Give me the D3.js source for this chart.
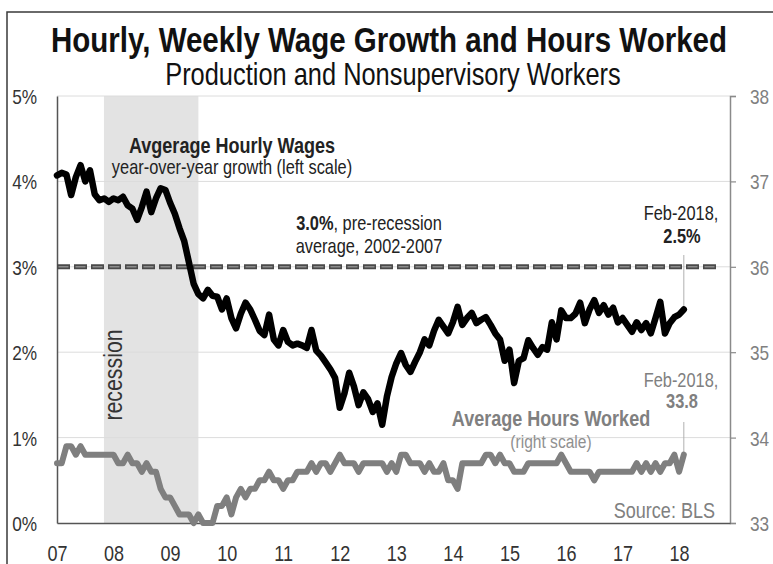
<!DOCTYPE html>
<html>
<head>
<meta charset="utf-8">
<script src="https://cdn.jsdelivr.net/npm/d3@7"></script>
<style>
  html, body { margin: 0; padding: 0; background: #fff; }
  svg { display: block; }
  text { font-family: "Liberation Sans", Arial, sans-serif; }
</style>
</head>
<body>
<script>
// Year-over-year growth of average hourly wages, production & nonsupervisory workers (%), monthly Jan-2007 .. Feb-2018
const wageGrowth = [
  4.07, 4.10, 4.08, 3.84, 4.05, 4.19, 4.00, 4.13, 3.85, 3.78, 3.80, 3.76,
  3.80, 3.78, 3.82, 3.72, 3.68, 3.55, 3.70, 3.88, 3.64, 3.80, 3.92, 3.90,
  3.75, 3.62, 3.45, 3.30, 3.05, 2.80, 2.68, 2.63, 2.73, 2.66, 2.65, 2.50,
  2.63, 2.40, 2.28, 2.45, 2.58, 2.50, 2.38, 2.25, 2.20, 2.44, 2.15, 2.08,
  2.26, 2.12, 2.08, 2.10, 2.08, 2.05, 2.26, 2.02, 1.96, 1.88, 1.80, 1.70,
  1.35, 1.52, 1.76, 1.60, 1.38, 1.53, 1.45, 1.30, 1.40, 1.15, 1.48, 1.71,
  1.87, 1.99, 1.85, 1.77, 1.89, 2.00, 2.15, 2.08, 2.25, 2.38, 2.30, 2.22,
  2.35, 2.53, 2.32, 2.40, 2.46, 2.34, 2.38, 2.41, 2.32, 2.22, 2.15, 1.90,
  2.03, 1.64, 1.90, 1.93, 2.14, 2.05, 1.97, 2.06, 2.03, 2.35, 2.15, 2.49,
  2.40, 2.40, 2.45, 2.58, 2.34, 2.50, 2.61, 2.46, 2.55, 2.44, 2.52, 2.35,
  2.40, 2.32, 2.24, 2.35, 2.26, 2.34, 2.22, 2.40, 2.59, 2.22, 2.34, 2.41,
  2.44, 2.50
];

// Average weekly hours worked, same workers, same months
const hoursWorked = [
  33.7, 33.7, 33.9, 33.9, 33.8, 33.9, 33.8, 33.8, 33.8, 33.8, 33.8, 33.8,
  33.8, 33.7, 33.7, 33.8, 33.7, 33.7, 33.6, 33.7, 33.6, 33.6, 33.4, 33.3,
  33.3, 33.2, 33.1, 33.1, 33.1, 33.0, 33.1, 33.0, 33.0, 33.0, 33.2, 33.2,
  33.3, 33.1, 33.3, 33.4, 33.3, 33.4, 33.4, 33.5, 33.5, 33.6, 33.5, 33.5,
  33.4, 33.5, 33.5, 33.6, 33.6, 33.6, 33.7, 33.6, 33.7, 33.7, 33.6, 33.7,
  33.8, 33.7, 33.7, 33.7, 33.6, 33.7, 33.7, 33.7, 33.7, 33.7, 33.6, 33.7,
  33.6, 33.8, 33.8, 33.7, 33.7, 33.7, 33.6, 33.7, 33.6, 33.6, 33.7, 33.5,
  33.5, 33.4, 33.7, 33.7, 33.7, 33.7, 33.7, 33.8, 33.8, 33.7, 33.8, 33.7,
  33.7, 33.6, 33.6, 33.6, 33.7, 33.7, 33.7, 33.7, 33.7, 33.7, 33.7, 33.8,
  33.7, 33.6, 33.6, 33.6, 33.6, 33.6, 33.5, 33.6, 33.6, 33.6, 33.6, 33.6,
  33.6, 33.6, 33.6, 33.7, 33.6, 33.7, 33.6, 33.7, 33.6, 33.7, 33.7, 33.8,
  33.6, 33.8
];

const startYear = 2007;
const xDomain = [2007, 2018.9];
const yearTicks = [2007, 2008, 2009, 2010, 2011, 2012, 2013, 2014, 2015, 2016, 2017, 2018];
const yearLabels = ["07", "08", "09", "10", "11", "12", "13", "14", "15", "16", "17", "18"];
const leftTicks = [0, 1, 2, 3, 4, 5];
const leftLabels = ["0%", "1%", "2%", "3%", "4%", "5%"];
const rightTicks = [33, 34, 35, 36, 37, 38];
const recession = [2007.83, 2009.5];
const preRecessionAvg = 3.0;

const W = 773, H = 564;
const plot = { left: 57, right: 730, top: 96, bottom: 523 };
const NARROW = 0.82; // horizontal squeeze giving a narrow sans face

const svg = d3.select("body").append("svg").attr("width", W).attr("height", H);

// outer frame
svg.append("rect").attr("x", 7).attr("y", 12).attr("width", 800).attr("height", 600)
  .attr("fill", "none").attr("stroke", "#3a3a3a").attr("stroke-width", 1.5);

const x = d3.scaleLinear().domain(xDomain).range([plot.left, plot.right]);
const yL = d3.scaleLinear().domain([0, 5]).range([plot.bottom, plot.top]);
const yR = d3.scaleLinear().domain([33, 38]).range([plot.bottom, plot.top]);

const wageData = wageGrowth.map((v, i) => ({ t: startYear + i / 12, v }));
const hoursData = hoursWorked.map((v, i) => ({ t: startYear + i / 12, v }));

// recession band
svg.append("rect")
  .attr("x", x(recession[0])).attr("y", plot.top)
  .attr("width", x(recession[1]) - x(recession[0])).attr("height", plot.bottom - plot.top)
  .attr("fill", "#e3e3e3");

// horizontal grid
svg.append("g").selectAll("line").data(leftTicks.slice(1)).join("line")
  .attr("x1", plot.left).attr("x2", plot.right)
  .attr("y1", d => yL(d)).attr("y2", d => yL(d))
  .attr("stroke", "#dcdcdc").attr("stroke-width", 1);

// left axis
const leftAxis = d3.axisLeft(yL).tickValues(leftTicks).tickFormat((d, i) => leftLabels[i]).tickSize(0).tickPadding(20);
const gL = svg.append("g").attr("transform", `translate(${plot.left},0)`).call(leftAxis);
gL.select(".domain").attr("stroke", "#555").attr("stroke-width", 1.5);
gL.selectAll("text").attr("font-size", 21).attr("fill", "#333").attr("dy", "0.36em");

// right axis
const rightAxis = d3.axisRight(yR).tickValues(rightTicks).tickFormat(d3.format("d")).tickSize(6).tickPadding(14);
const gR = svg.append("g").attr("transform", `translate(${plot.right},0)`).call(rightAxis);
gR.select(".domain").attr("stroke", "#8a8a8a").attr("stroke-width", 1.5);
gR.selectAll(".tick line").attr("stroke", "#8a8a8a").attr("stroke-width", 1.2);
gR.selectAll("text").attr("font-size", 21).attr("fill", "#808080").attr("dy", "0.36em");

// bottom axis
const bottomAxis = d3.axisBottom(x).tickValues(yearTicks).tickFormat((d, i) => yearLabels[i]).tickSize(0).tickPadding(22);
const gB = svg.append("g").attr("transform", `translate(0,${plot.bottom})`).call(bottomAxis);
gB.select(".domain").attr("stroke", "#555").attr("stroke-width", 1.5);
gB.selectAll("text").attr("font-size", 22).attr("fill", "#333");

// pre-recession average line (dashed, two-tone)
const avgY = yL(preRecessionAvg);
svg.append("line").attr("x1", plot.left).attr("x2", 720).attr("y1", avgY).attr("y2", avgY)
  .attr("stroke", "#4a4a4a").attr("stroke-width", 5).attr("stroke-dasharray", "13,4");
svg.append("line").attr("x1", plot.left).attr("x2", 720).attr("y1", avgY).attr("y2", avgY)
  .attr("stroke", "#8c8c8c").attr("stroke-width", 1.6).attr("stroke-dasharray", "10,7").attr("stroke-dashoffset", -1.5);

// leader lines for the latest values
const lastT = wageData[wageData.length - 1].t;
svg.append("line").attr("x1", x(lastT)).attr("x2", x(lastT))
  .attr("y1", 255).attr("y2", yL(wageGrowth[wageGrowth.length - 1]))
  .attr("stroke", "#b0b0b0").attr("stroke-width", 1);
svg.append("line").attr("x1", x(lastT)).attr("x2", x(lastT))
  .attr("y1", 422).attr("y2", yR(hoursWorked[hoursWorked.length - 1]))
  .attr("stroke", "#b0b0b0").attr("stroke-width", 1);

// series lines
const lineL = d3.line().x(d => x(d.t)).y(d => yL(d.v));
const lineR = d3.line().x(d => x(d.t)).y(d => yR(d.v));

svg.append("path").datum(hoursData).attr("d", lineR)
  .attr("fill", "none").attr("stroke", "#7f7f7f").attr("stroke-width", 6)
  .attr("stroke-linejoin", "round").attr("stroke-linecap", "round");

svg.append("path").datum(wageData).attr("d", lineL)
  .attr("fill", "none").attr("stroke", "#000").attr("stroke-width", 6.5)
  .attr("stroke-linejoin", "round").attr("stroke-linecap", "round");

// titles
function label(xp, yp, txt, opts = {}) {
  return svg.append("text").attr("x", xp).attr("y", yp)
    .attr("text-anchor", opts.anchor || "middle")
    .attr("font-size", opts.size || 20)
    .attr("font-weight", opts.weight || "normal")
    .attr("fill", opts.fill || "#222")
    .text(txt);
}

label(389, 52, "Hourly, Weekly Wage Growth and Hours Worked", { size: 36, weight: "bold", fill: "#111" });
label(393, 85, "Production and Nonsupervisory Workers", { size: 31, fill: "#111" });

// annotations
label(232, 153, "Avgerage Hourly Wages", { size: 22, weight: "bold", fill: "#222" });
label(232, 174, "year-over-year growth (left scale)", { size: 20 });

const pre = svg.append("text").attr("x", 369).attr("y", 230).attr("text-anchor", "middle")
  .attr("font-size", 20).attr("fill", "#222");
pre.append("tspan").attr("font-weight", "bold").text(preRecessionAvg.toFixed(1) + "%");
pre.append("tspan").text(", pre-recession");
label(369, 253, "average, 2002-2007", { size: 20 });

label(681, 220, "Feb-2018,", { size: 20 });
label(682, 243, d3.format(".1f")(wageGrowth[wageGrowth.length - 1]) + "%", { size: 20, weight: "bold" });

label(551, 426, "Average Hours Worked", { size: 22, weight: "bold", fill: "#808080" });
label(551, 448, "(right scale)", { size: 19, fill: "#909090" });

label(681, 387, "Feb-2018,", { size: 20, fill: "#808080" });
label(682, 408, d3.format(".1f")(hoursWorked[hoursWorked.length - 1]), { size: 20, weight: "bold", fill: "#808080" });

label(715, 518, "Source: BLS", { size: 22, anchor: "end", fill: "#808080" });

// squeeze every text horizontally about its anchor point
svg.selectAll("text").each(function () {
  const t = d3.select(this);
  const ax = +t.attr("x") || 0;
  const prev = t.attr("transform") || "";
  t.attr("transform", `${prev} translate(${ax},0) scale(${NARROW},1) translate(${-ax},0)`);
});

// rotated band label
svg.append("text")
  .attr("transform", `translate(115,375) rotate(-90) scale(${NARROW},1)`)
  .attr("text-anchor", "middle").attr("dy", "0.26em")
  .attr("font-size", 26).attr("fill", "#333")
  .text("recession");
</script>
</body>
</html>
